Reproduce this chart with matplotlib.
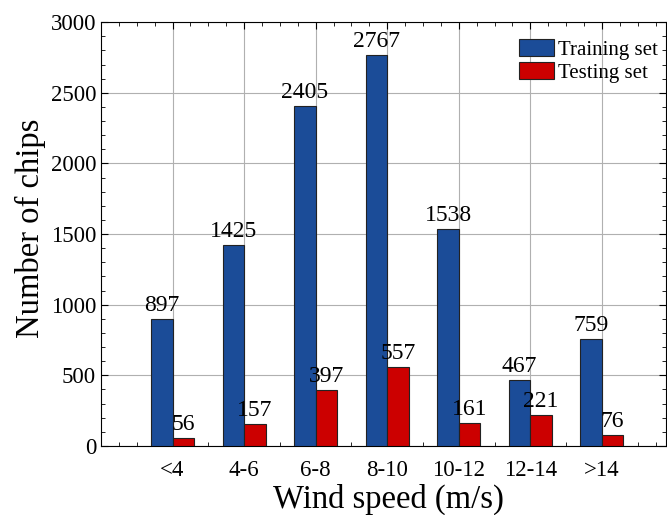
import numpy as np
import matplotlib
matplotlib.use('Agg')
import matplotlib.pyplot as plt
from matplotlib.ticker import MultipleLocator

categories = ['<4', '4-6', '6-8', '8-10', '10-12', '12-14', '>14']
training = [897, 1425, 2405, 2767, 1538, 467, 759]
testing = [56, 157, 397, 557, 161, 221, 76]

plt.rcParams['font.family'] = ['Liberation Serif', 'DejaVu Serif']

fig = plt.figure(figsize=(6.67, 5.15), dpi=100)
ax = fig.add_axes([0.1514, 0.134, 0.8476, 0.823])

x = np.arange(1, len(categories) + 1)
w = 0.3
b1 = ax.bar(x - w / 2, training, w, color='#1b4c98', edgecolor='#222222', linewidth=0.8,
            label='Training set', zorder=3)
b2 = ax.bar(x + w / 2, testing, w, color='#cc0000', edgecolor='#222222', linewidth=0.8,
            label='Testing set', zorder=3)

for bars, vals in [(b1, training), (b2, testing)]:
    for r, v in zip(bars, vals):
        ax.text(r.get_x() + r.get_width() / 2, v + 20, str(v), ha='center', va='bottom',
                fontsize=17, zorder=4)

ax.set_xlim(0, 7.9)
ax.set_ylim(0, 3000)
ax.set_xticks(x)
ax.set_xticklabels(categories)
ax.xaxis.set_minor_locator(MultipleLocator(0.25))
ax.yaxis.set_major_locator(MultipleLocator(500))
ax.yaxis.set_minor_locator(MultipleLocator(100))
ax.tick_params(which='both', direction='in', top=True, right=True, labelsize=16.5)
ax.tick_params(which='major', length=5)
ax.tick_params(which='minor', length=3)
ax.tick_params(axis='x', pad=10)
ax.grid(True, which='major', color='#b0b0b0', linewidth=0.8, zorder=0)

ax.set_xlabel('Wind speed (m/s)', fontsize=23.5)
ax.set_ylabel('Number of chips', fontsize=23.5)
ax.xaxis.set_label_coords(0.509, -0.09)
ax.yaxis.set_label_coords(-0.098, 0.514)

ax.legend(loc='upper right', bbox_to_anchor=(1.0, 0.98), frameon=False, fontsize=15,
          handlelength=1.7, handleheight=0.9, handletextpad=0.2, labelspacing=0.1,
          borderaxespad=0.0)

fig.savefig('out.png', dpi=100)
